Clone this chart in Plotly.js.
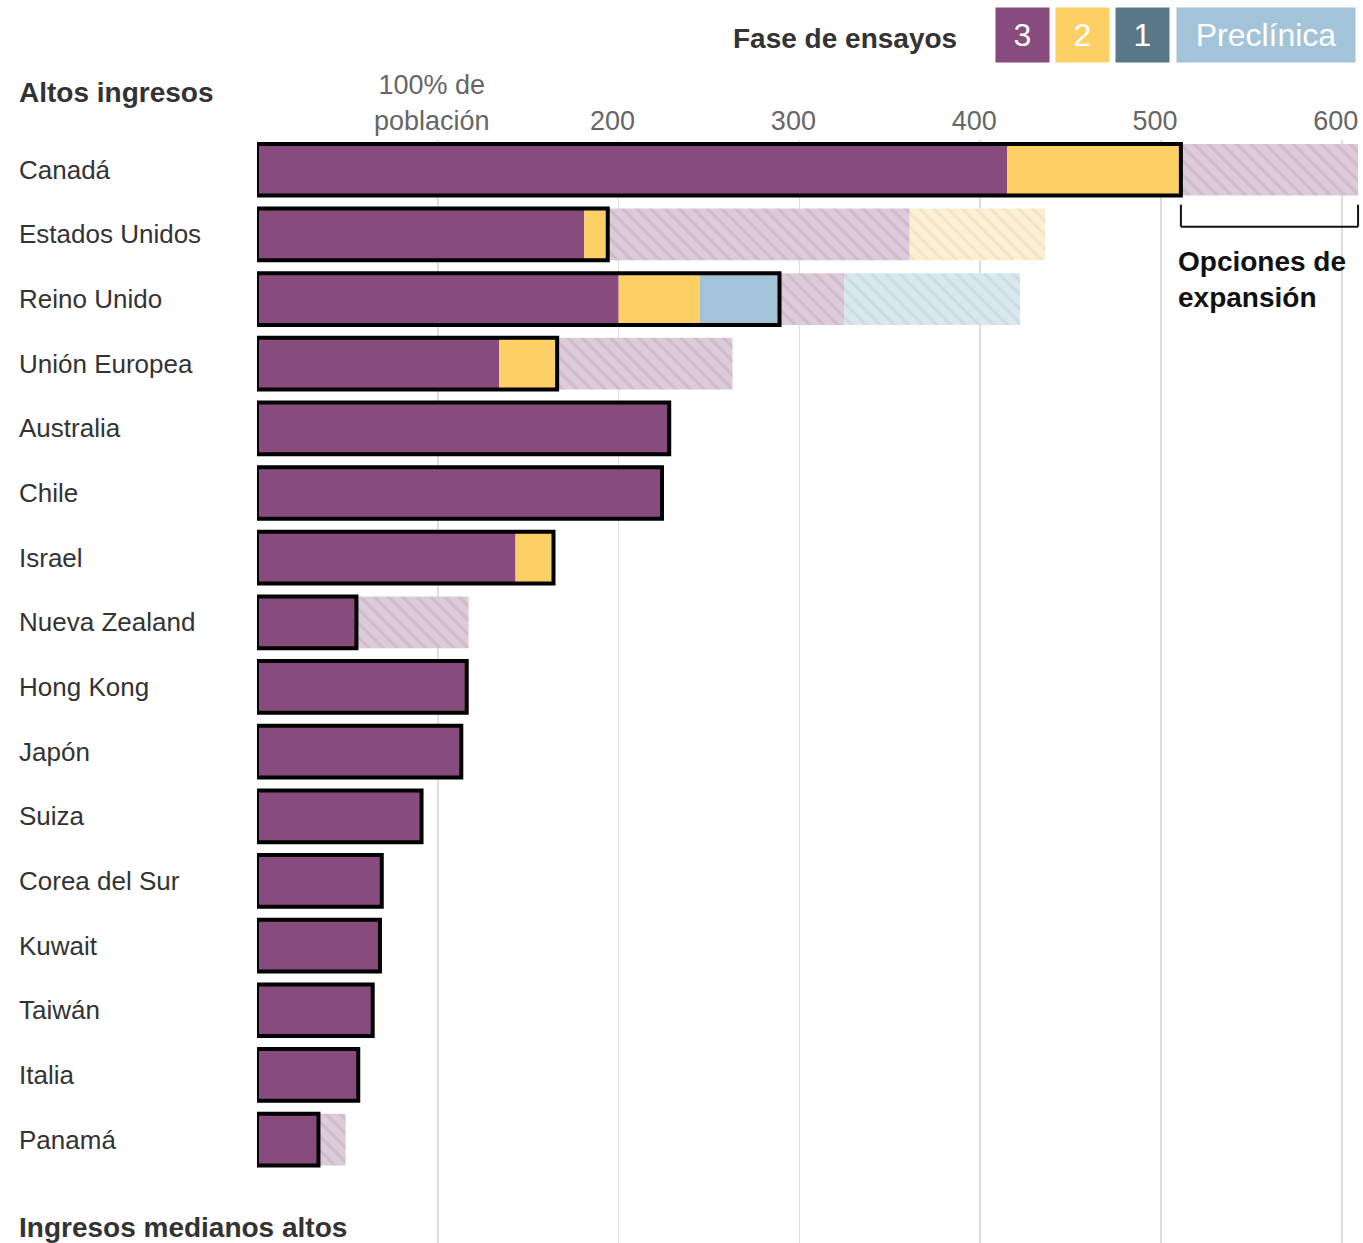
<!DOCTYPE html>
<html>
<head>
<meta charset="utf-8">
<script src="https://cdn.plot.ly/plotly-3.0.1.min.js"></script>
<style>html,body{margin:0;padding:0;background:#fff;}#chart{width:1363px;height:1243px;}</style>
</head>
<body>
<div id="chart"></div>
<script>
// ---- data (doses as % of population) ----
const countries = ["Canadá","Estados Unidos","Reino Unido","Unión Europea","Australia","Chile","Israel","Nueva Zealand","Hong Kong","Japón","Suiza","Corea del Sur","Kuwait","Taiwán","Italia","Panamá"];
// confirmed purchases by trial phase
const phase3 = [415,181,200,134,228,224,143,55,116,113,91,69,68,64,56,34];
const phase2 = [96,13,45,32,0,0,21,0,0,0,0,0,0,0,0,0];
const phase1 = [0,0,0,0,0,0,0,0,0,0,0,0,0,0,0,0];
const preclin = [0,0,44,0,0,0,0,0,0,0,0,0,0,0,0,0];
// expansion options by trial phase
const opt3 = [98,167,36,97,0,0,0,62,0,0,0,0,0,0,0,15];
const opt2 = [0,75,0,0,0,0,0,0,0,0,0,0,0,0,0,0];
const opt1 = [0,0,0,0,0,0,0,0,0,0,0,0,0,0,0,0];
const optPre = [0,0,97,0,0,0,0,0,0,0,0,0,0,0,0,0];
const tickVals = [100,200,300,400,500,600];
const tickText = ["100% de<br>población","200","300","400","500","600"];

// ---- styles ----
const C3 = "#874b7d", C2 = "#fdd066", C1 = "#5a7788", CP = "#a3c4d8";
const FONT = "Liberation Sans, Arial, sans-serif";

const add = (a,b) => a.map((v,i)=>v+b[i]);
const base2 = phase3;
const base1 = add(base2, phase2);
const baseP = add(base1, phase1);
const total = add(baseP, preclin);
const baseO2 = add(total, opt3);
const baseO1 = add(baseO2, opt2);
const baseOP = add(baseO1, opt1);

function solid(x, base, color){
  return {type:"bar", orientation:"h", y:countries, x:x, base:base,
    marker:{color:color, line:{width:0}}, hoverinfo:"skip", showlegend:false};
}
function hatched(x, base, bg, fg){
  return {type:"bar", orientation:"h", y:countries, x:x, base:base,
    marker:{color:bg, line:{width:0}, pattern:{shape:"\\", fgcolor:fg, bgcolor:bg, size:10, solidity:0.3, fillmode:"replace"}},
    hoverinfo:"skip", showlegend:false};
}

const traces = [
  solid(phase3, countries.map(()=>0), C3),
  solid(phase2, base2, C2),
  solid(phase1, base1, C1),
  solid(preclin, baseP, CP),
  hatched(opt3, total, "#dccbd8", "#d0bacc"),
  hatched(opt2, baseO2, "#fbf0d6", "#f3e4c2"),
  hatched(opt1, baseO1, "#cdd6dc", "#c1ccd4"),
  hatched(optPre, baseOP, "#d9e7ee", "#cbdce5"),
  {type:"bar", orientation:"h", y:countries, x:total, base:countries.map(()=>0),
    marker:{color:"rgba(0,0,0,0)", line:{width:4, color:"#000"}}, hoverinfo:"skip", showlegend:false}
];

const W = 1363, H = 1243, ML = 257, MT = 140;
const PW = W - ML, PH = H - MT;
const px2paperX = p => (p - ML) / PW;
const px2paperY = p => 1 - (p - MT) / PH;

const annotations = countries.map(c => ({
  xref:"paper", yref:"y", x:px2paperX(17), y:c, xanchor:"left", yanchor:"middle",
  text:c, showarrow:false, font:{family:FONT, size:26, color:"#333"}
}));
annotations.push(
  {xref:"paper", yref:"paper", x:px2paperX(17), y:px2paperY(93), xanchor:"left", yanchor:"middle",
   text:"<b>Altos ingresos</b>", showarrow:false, font:{family:FONT, size:28, color:"#333"}},
  {xref:"paper", yref:"paper", x:px2paperX(17), y:px2paperY(1227), xanchor:"left", yanchor:"middle",
   text:"<b>Ingresos medianos altos</b>", showarrow:false, font:{family:FONT, size:28, color:"#333"}},
  {xref:"paper", yref:"paper", x:px2paperX(959), y:px2paperY(39), xanchor:"right", yanchor:"middle",
   text:"<b>Fase de ensayos</b>", showarrow:false, font:{family:FONT, size:28, color:"#333"}},
  {xref:"paper", yref:"paper", x:px2paperX(1176), y:px2paperY(279), xanchor:"left", yanchor:"middle",
   text:"<b>Opciones de<br>expansión</b>", align:"left", showarrow:false, font:{family:FONT, size:28, color:"#111"}}
);
const legendBoxes = [
  {t:"3", c:C3, x0:996, x1:1049},
  {t:"2", c:C2, x0:1056, x1:1109},
  {t:"1", c:C1, x0:1116, x1:1169},
  {t:"Preclínica", c:CP, x0:1177, x1:1355}
];
legendBoxes.forEach(b => annotations.push({
  xref:"paper", yref:"paper", x:px2paperX((b.x0+b.x1)/2), y:px2paperY(35), xanchor:"center", yanchor:"middle",
  text:b.t, showarrow:false, bgcolor:b.c, width:b.x1-b.x0, height:54, borderpad:0,
  font:{family:FONT, size:32, color:"#fff"}
}));

const bx0 = total[0], bx1 = total[0] + opt3[0] + opt2[0] + opt1[0] + optPre[0];
const ln = {color:"#111", width:2};
const shapes = [
  {type:"line", xref:"x", yref:"y", x0:bx0, x1:bx0, y0:0.54, y1:0.88, line:ln},
  {type:"line", xref:"x", yref:"y", x0:bx0, x1:bx1, y0:0.88, y1:0.88, line:ln},
  {type:"line", xref:"x", yref:"y", x0:bx1, x1:bx1, y0:0.54, y1:0.88, line:ln}
];

const layout = {
  width:W, height:H,
  margin:{l:ML, r:0, t:MT, b:0, pad:0},
  paper_bgcolor:"#fff", plot_bgcolor:"#fff",
  barmode:"overlay", bargap:0.2,
  showlegend:false,
  font:{family:FONT},
  xaxis:{
    side:"top", range:[0, PW/1.808], tickvals:tickVals, ticktext:tickText,
    showgrid:true, gridcolor:"rgba(0,0,0,0.13)", gridwidth:1.5,
    zeroline:false, showline:false, ticks:"", layer:"above traces",
    ticklabelshift:-6, ticklabelstandoff:4, ticklabeloverflow:"allow",
    tickfont:{family:FONT, size:27, color:"#666"}, fixedrange:true
  },
  yaxis:{
    type:"category", categoryarray:countries, categoryorder:"array",
    range:[16.6, -0.46], showticklabels:false, showgrid:false, zeroline:false, showline:false, ticks:"", fixedrange:true
  },
  annotations:annotations,
  shapes:shapes
};

Plotly.newPlot("chart", traces, layout, {displayModeBar:false, staticPlot:true});
</script>
</body>
</html>
